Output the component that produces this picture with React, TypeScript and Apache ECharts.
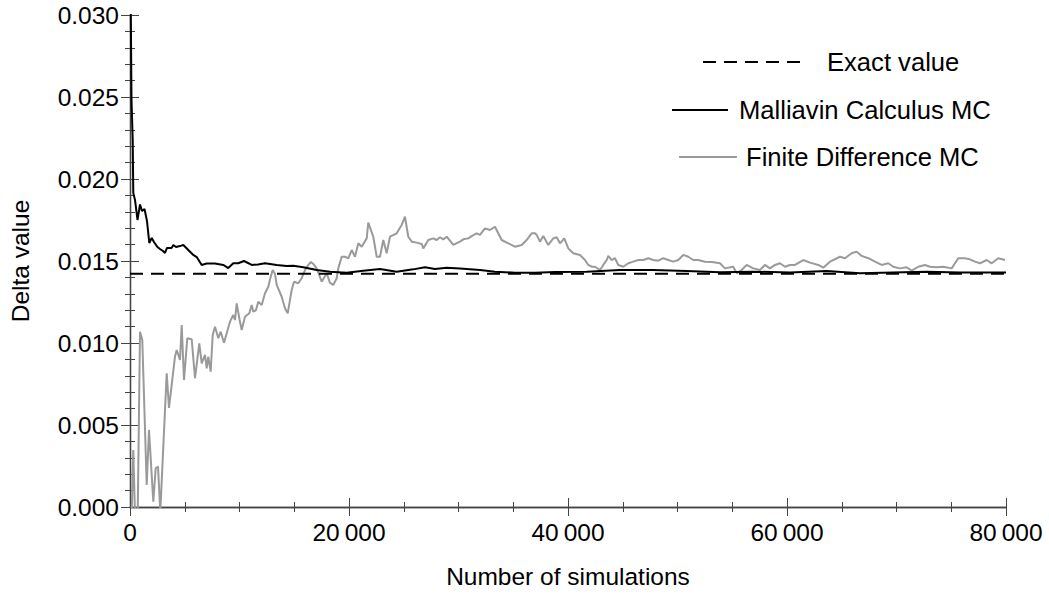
import React, { useEffect, useRef } from "react";
import * as echarts from "echarts";

// Monte Carlo estimates of the option delta vs. number of simulated paths
const EXACT_DELTA = 0.01422;
const xRange: [number, number] = [0, 80000];

const malliavinPoints: [number, number][] = [
  [50, 0.032], [137, 0.02482], [247, 0.02238], [301, 0.01915], [457, 0.01872],
  [685, 0.0175], [913, 0.01845], [1096, 0.01805], [1324, 0.01817], [1552, 0.01744],
  [1763, 0.0161], [1982, 0.0164], [2192, 0.01616], [2511, 0.01585], [2740, 0.01573],
  [3014, 0.01561], [3196, 0.01549], [3379, 0.0158], [3808, 0.0158], [3954, 0.01598],
  [4200, 0.01585], [4566, 0.01591], [4867, 0.01598], [5324, 0.01567], [5781, 0.01537],
  [6091, 0.01524], [6548, 0.01476], [7004, 0.01485], [7762, 0.01485], [8520, 0.01476],
  [8977, 0.01457], [9433, 0.01486], [9890, 0.01486], [10410, 0.015], [11114, 0.01476],
  [11690, 0.01479], [12328, 0.01486], [13397, 0.01476], [14310, 0.0147], [14913, 0.01471],
  [15826, 0.01462], [17050, 0.01445], [18264, 0.01435], [19789, 0.01429], [21305, 0.01441],
  [22830, 0.01451], [24355, 0.01435], [25871, 0.01449], [26940, 0.01462], [27853, 0.01451],
  [28921, 0.01459], [30136, 0.01455], [31962, 0.01445], [33332, 0.01435], [35158, 0.01429],
  [36985, 0.01429], [38811, 0.01433], [41705, 0.01435], [44747, 0.01445], [47760, 0.01445],
  [50837, 0.01439], [53879, 0.01431], [56892, 0.01435], [60271, 0.0143], [63622, 0.01439],
  [66664, 0.01425], [69677, 0.0143], [72754, 0.01435], [75796, 0.0143], [80000, 0.0143],
];

const finiteDiffPoints: [number, number][] = [
  [137, -0.0008], [301, 0.00348], [457, -0.0005], [703, -0.0005], [913, 0.01069],
  [1123, 0.01018], [1525, 0.00134], [1735, 0.0047], [2128, 0.00032], [2347, 0.00236],
  [2557, 0.00246], [2767, -0.0003], [3351, 0.00815], [3561, 0.00604], [4109, 0.00917],
  [4265, 0.00957], [4566, 0.00896], [4721, 0.0111], [4931, 0.00774], [5233, 0.01029],
  [5634, 0.01023], [5936, 0.00785], [6328, 0.00998], [6548, 0.00876], [6850, 0.00927],
  [7004, 0.00846], [7150, 0.00916], [7369, 0.00825], [7552, 0.01049], [7762, 0.01099],
  [8064, 0.01029], [8283, 0.01069], [8584, 0.01002], [8831, 0.01059], [9132, 0.0113],
  [9433, 0.01171], [9589, 0.0114], [9744, 0.01242], [9981, 0.01151], [10200, 0.01079],
  [10502, 0.0116], [10894, 0.01181], [11114, 0.01232], [11260, 0.01191], [11506, 0.01201],
  [11716, 0.01252], [12027, 0.01232], [12328, 0.01303], [12629, 0.01343], [12849, 0.01404],
  [13031, 0.01445], [13241, 0.01421], [13397, 0.01354], [13853, 0.01282], [14155, 0.01212],
  [14401, 0.01181], [14766, 0.01323], [14976, 0.01374], [15369, 0.01364], [15680, 0.01395],
  [15981, 0.01445], [16282, 0.01476], [16529, 0.01494], [16739, 0.01482], [17050, 0.01455],
  [17506, 0.01374], [17963, 0.01425], [18264, 0.01366], [18565, 0.01354], [18876, 0.01395],
  [19022, 0.01455], [19332, 0.01526], [19634, 0.01526], [19935, 0.01516], [20245, 0.01567],
  [20547, 0.01526], [20848, 0.01608], [21159, 0.01587], [21615, 0.01638], [21762, 0.01734],
  [22218, 0.01648], [22528, 0.01526], [22830, 0.01526], [23131, 0.01628], [23442, 0.01547],
  [23743, 0.01648], [24355, 0.01669], [24812, 0.0172], [25113, 0.0177], [25414, 0.01648],
  [25725, 0.01618], [26181, 0.01612], [26638, 0.01604], [26784, 0.01577], [27241, 0.01628],
  [27697, 0.01638], [28008, 0.01628], [28309, 0.01645], [28611, 0.01632], [28921, 0.01648],
  [29524, 0.01598], [30136, 0.01618], [30437, 0.01632], [30893, 0.01638], [31204, 0.01652],
  [31660, 0.01669], [31962, 0.01659], [32419, 0.01699], [32875, 0.01689], [33332, 0.01709],
  [33944, 0.01628], [34546, 0.01608], [35158, 0.01587], [35770, 0.01598], [36227, 0.01628],
  [36683, 0.01669], [36985, 0.01669], [37140, 0.01659], [37441, 0.01618], [37743, 0.01652],
  [38200, 0.01598], [38656, 0.01638], [38966, 0.01645], [39268, 0.01608], [39661, 0.01638],
  [40026, 0.01577], [40483, 0.01547], [41094, 0.01537], [41551, 0.01506], [41852, 0.01476],
  [42163, 0.01465], [42464, 0.01465], [42920, 0.01445], [43222, 0.01476], [43532, 0.01506],
  [43679, 0.01531], [43989, 0.01506], [44290, 0.01517], [44592, 0.01476], [45048, 0.01465],
  [45505, 0.01486], [45961, 0.01496], [46418, 0.01506], [46875, 0.01506], [47331, 0.01517],
  [47788, 0.01506], [48244, 0.01502], [48701, 0.01517], [49157, 0.01506], [49614, 0.01496],
  [50070, 0.01506], [50527, 0.01537], [50983, 0.01526], [51440, 0.01506], [51897, 0.01506],
  [52505, 0.01496], [53148, 0.01494], [53879, 0.01486], [54335, 0.01455], [55093, 0.01465],
  [55404, 0.01425], [55860, 0.01445], [56317, 0.01476], [56920, 0.01455], [57532, 0.01445],
  [57988, 0.01476], [58445, 0.01455], [58901, 0.01476], [59358, 0.01486], [59815, 0.01465],
  [60271, 0.01476], [60728, 0.01476], [61486, 0.01506], [62098, 0.0149], [62855, 0.01476],
  [63312, 0.01459], [63924, 0.01496], [64837, 0.01526], [65294, 0.01517], [65905, 0.01547],
  [66362, 0.01557], [66819, 0.01531], [67421, 0.01517], [68033, 0.01496], [68645, 0.01476],
  [69248, 0.01486], [69705, 0.01465], [70316, 0.01455], [70928, 0.01462], [71385, 0.01441],
  [71987, 0.01465], [72599, 0.01476], [73056, 0.01465], [73668, 0.01462], [74270, 0.01465],
  [75038, 0.01455], [75640, 0.01517], [76252, 0.01517], [76709, 0.0151], [77165, 0.01496],
  [77622, 0.01486], [78235, 0.01506], [78691, 0.01486], [79294, 0.01517], [79905, 0.01506],
];

const SERIES_NAMES = ["Exact value", "Malliavin Calculus MC", "Finite Difference MC"];

const FONT = "'Liberation Sans', Arial, Helvetica, sans-serif";
const FRAME = "#444";

function formatThousands(v: number): string {
  if (v === 0) return "0";
  const s = String(Math.round(v));
  return s.slice(0, s.length - 3) + "\u2009" + s.slice(s.length - 3);
}

export default function App() {
  const ref = useRef<HTMLDivElement>(null);

  useEffect(() => {
    if (!ref.current) return;
    const chart = echarts.init(ref.current, null, { renderer: "svg" });

    const tickStyle = {
      axisLine: { show: true, lineStyle: { color: FRAME, width: 1.3 } },
      axisTick: { show: true, inside: true, length: 9, lineStyle: { color: FRAME, width: 1 } },
      minorTick: { show: true, length: 5, lineStyle: { color: FRAME, width: 1 } },
      splitLine: { show: false },
    };

    // legend entries show only the line sample (no point marker)
    const legendBase = {
      orient: "horizontal" as const,
      itemHeight: 14,
      selectedMode: false,
      itemStyle: { opacity: 0, borderWidth: 0 },
      textStyle: { fontFamily: FONT, fontSize: 25.6, color: "#000" },
    };

    chart.setOption({
      animation: false,
      backgroundColor: "#fff",
      grid: { left: 130, top: 15, right: 43, bottom: 90, containLabel: false },
      legend: [
        {
          ...legendBase,
          data: [SERIES_NAMES[0]],
          left: 697,
          top: 44,
          itemWidth: 105,
          textStyle: { ...legendBase.textStyle, padding: [0, 0, 0, 14] },
        },
        {
          ...legendBase,
          data: [SERIES_NAMES[1]],
          left: 666,
          top: 92,
          itemWidth: 56,
          textStyle: { ...legendBase.textStyle, padding: [0, 0, 0, 6] },
        },
        {
          ...legendBase,
          data: [SERIES_NAMES[2]],
          left: 673,
          top: 139,
          itemWidth: 58,
          textStyle: { ...legendBase.textStyle, padding: [0, 0, 0, 4] },
        },
      ],
      xAxis: [
        {
          type: "value",
          min: xRange[0],
          max: xRange[1],
          interval: 20000,
          position: "bottom",
          name: "Number of simulations",
          nameLocation: "middle",
          nameGap: 57,
          nameTextStyle: { fontFamily: FONT, fontSize: 24.5, color: "#000" },
          axisLabel: {
            fontFamily: FONT,
            fontSize: 24.5,
            color: "#000",
            margin: 13,
            formatter: formatThousands,
          },
          ...tickStyle,
          minorTick: { ...tickStyle.minorTick, splitNumber: 4 },
        },
        {
          type: "value",
          min: xRange[0],
          max: xRange[1],
          interval: 20000,
          position: "top",
          axisLabel: { show: false },
          ...tickStyle,
          minorTick: { ...tickStyle.minorTick, splitNumber: 4 },
        },
      ],
      yAxis: [
        {
          type: "value",
          min: 0,
          max: 0.03,
          interval: 0.005,
          position: "left",
          name: "Delta value",
          nameLocation: "middle",
          nameGap: 97,
          nameTextStyle: { fontFamily: FONT, fontSize: 24.5, color: "#000" },
          axisLabel: {
            fontFamily: FONT,
            fontSize: 24.5,
            color: "#000",
            margin: 11,
            formatter: (v: number) => v.toFixed(3),
          },
          ...tickStyle,
          minorTick: { ...tickStyle.minorTick, splitNumber: 5 },
        },
        {
          type: "value",
          min: 0,
          max: 0.03,
          interval: 0.005,
          position: "right",
          axisLabel: { show: false },
          ...tickStyle,
          minorTick: { ...tickStyle.minorTick, splitNumber: 5 },
        },
      ],
      series: [
        {
          name: SERIES_NAMES[2],
          type: "line",
          xAxisIndex: 0,
          yAxisIndex: 0,
          data: finiteDiffPoints,
          symbol: "none",
          clip: true,
          lineStyle: { color: "#9a9a9a", width: 2 },
          itemStyle: { color: "#9a9a9a" },
          z: 2,
        },
        {
          name: SERIES_NAMES[0],
          type: "line",
          xAxisIndex: 0,
          yAxisIndex: 0,
          data: [
            [xRange[0], EXACT_DELTA],
            [xRange[1], EXACT_DELTA],
          ],
          symbol: "none",
          clip: true,
          lineStyle: { color: "#000", width: 2, type: [13, 8] },
          itemStyle: { color: "#000" },
          z: 3,
        },
        {
          name: SERIES_NAMES[1],
          type: "line",
          xAxisIndex: 0,
          yAxisIndex: 0,
          data: malliavinPoints,
          symbol: "none",
          clip: true,
          lineStyle: { color: "#000", width: 2 },
          itemStyle: { color: "#000" },
          z: 4,
        },
      ],
    });

    return () => chart.dispose();
  }, []);

  return (
    <div
      ref={ref}
      style={{ position: "fixed", left: 0, top: 0, width: 1049, height: 597, background: "#fff" }}
    />
  );
}
